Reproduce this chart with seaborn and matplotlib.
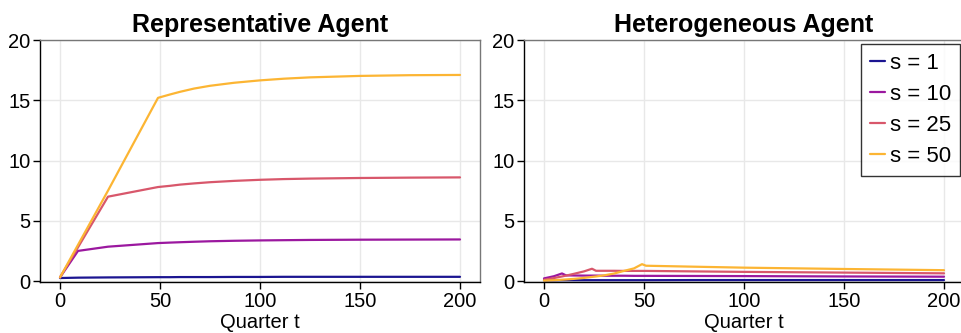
import matplotlib
matplotlib.use("Agg")
import matplotlib.pyplot as plt
import seaborn as sns
import pandas as pd

# ---- data ----
series_labels = ["s = 1", "s = 10", "s = 25", "s = 50"]
series_colors = ["#1b1591", "#9b189f", "#d8576b", "#fcb533"]

t_rep = [0, 9, 24, 49, 55, 60, 67, 75, 87, 100, 112, 125, 150, 175, 200]
rep_s1 = [0.25, 0.28, 0.30, 0.32, 0.32, 0.33, 0.33, 0.33, 0.34, 0.34, 0.35, 0.35, 0.35, 0.35, 0.35]
rep_s10 = [0.3, 2.5, 2.85, 3.15, 3.19, 3.22, 3.26, 3.30, 3.34, 3.37, 3.39, 3.41, 3.43, 3.44, 3.45]
rep_s25 = [0.3, 2.8, 7.0, 7.8, 7.9, 8.0, 8.1, 8.2, 8.31, 8.4, 8.46, 8.5, 8.55, 8.58, 8.6]
rep_s50 = [0.3, 3.0, 7.5, 15.2, 15.48, 15.7, 15.97, 16.2, 16.45, 16.65, 16.79, 16.9, 17.02, 17.08, 17.1]

t_het = [0, 5, 9, 11, 15, 20, 24, 26, 30, 35, 40, 45, 49, 51, 75, 100, 150, 200]
het_s1 = [0.06, 0.06, 0.07, 0.07, 0.07, 0.07, 0.07, 0.07, 0.07, 0.07, 0.07, 0.07, 0.07, 0.07, 0.08, 0.08, 0.08, 0.08]
het_s10 = [0.22, 0.40, 0.63, 0.47, 0.46, 0.45, 0.45, 0.45, 0.44, 0.44, 0.44, 0.43, 0.43, 0.43, 0.42, 0.41, 0.38, 0.36]
het_s25 = [0.10, 0.25, 0.38, 0.45, 0.60, 0.80, 1.02, 0.85, 0.85, 0.85, 0.84, 0.84, 0.84, 0.84, 0.80, 0.76, 0.70, 0.64]
het_s50 = [0.03, 0.07, 0.11, 0.13, 0.18, 0.26, 0.34, 0.38, 0.47, 0.62, 0.84, 1.05, 1.40, 1.27, 1.19, 1.11, 1.00, 0.90]

titles = ["Representative Agent", "Heterogeneous Agent"]
xlabel = "Quarter t"
yticks = [0, 5, 10, 15, 20]
xticks = [0, 50, 100, 150, 200]


def long_df(t, ys):
    rows = []
    for lab, y in zip(series_labels, ys):
        for ti, yi in zip(t, y):
            rows.append({"t": ti, "y": yi, "s": lab})
    return pd.DataFrame(rows)


df_rep = long_df(t_rep, [rep_s1, rep_s10, rep_s25, rep_s50])
df_het = long_df(t_het, [het_s1, het_s10, het_s25, het_s50])

sns.set_theme(style="white")
plt.rcParams["font.family"] = ["Liberation Sans", "DejaVu Sans"]
plt.rcParams["text.color"] = "black"
plt.rcParams["axes.labelcolor"] = "black"
plt.rcParams["xtick.color"] = "black"
plt.rcParams["ytick.color"] = "black"

fig = plt.figure(figsize=(9.62, 3.33), dpi=100)
W, H = 962, 333
axes = [
    fig.add_axes([40 / W, (H - 282) / H, 440 / W, 242 / H]),
    fig.add_axes([524 / W, (H - 282) / H, 440 / W, 242 / H]),
]
palette = dict(zip(series_labels, series_colors))

for ax, df, title in zip(axes, [df_rep, df_het], titles):
    sns.lineplot(data=df, x="t", y="y", hue="s", palette=palette, ax=ax,
                 linewidth=1.6, legend=(ax is axes[1]), sort=False)
    ax.set_xlim(-10, 210)
    ax.set_ylim(-0.08, 20)
    ax.set_xticks(xticks)
    ax.set_yticks(yticks)
    ax.grid(True, color="#e8e8e8", linewidth=1)
    ax.set_axisbelow(True)
    ax.set_title(title, fontsize=18, fontweight="bold", pad=6, color="black")
    ax.set_xlabel(xlabel, fontsize=14.5, labelpad=2, color="black")
    ax.set_ylabel("")
    ax.tick_params(axis="both", labelsize=14.5, length=5, width=1,
                   direction="out", bottom=True, left=True, pad=2, colors="black")
    for side in ["left", "bottom"]:
        ax.spines[side].set_color("black")
        ax.spines[side].set_linewidth(1)
    for side in ["top", "right"]:
        ax.spines[side].set_color("#777777")
        ax.spines[side].set_linewidth(1)

leg = axes[1].legend(title=None, loc="upper right", bbox_to_anchor=(960 / W, 1 - 44 / H),
                     bbox_transform=fig.transFigure, fontsize=16, frameon=True,
                     handlelength=0.7, handletextpad=0.2, borderpad=0.4,
                     labelspacing=0.45, fancybox=False, borderaxespad=0)
leg.get_frame().set_edgecolor("black")
leg.get_frame().set_linewidth(1)
for txt in leg.get_texts():
    txt.set_color("black")

fig.savefig("out.png", dpi=100)
